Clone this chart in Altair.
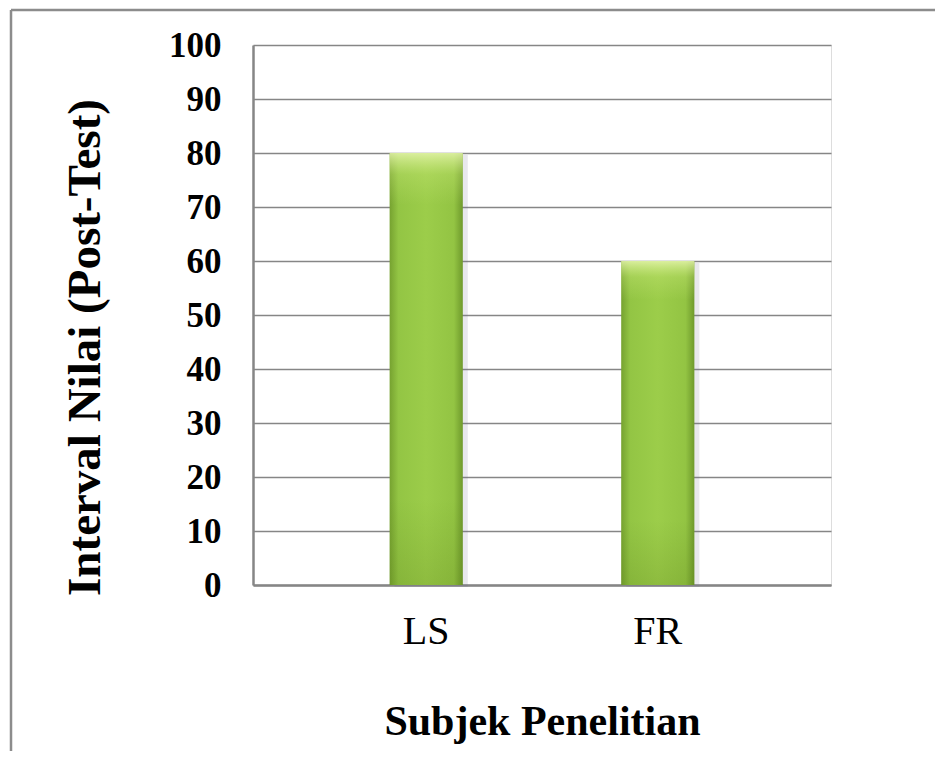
import altair as alt
import pandas as pd

categories = ["LS", "FR"]
values = [80, 60]
y_ticks = [0, 10, 20, 30, 40, 50, 60, 70, 80, 90, 100]

df = pd.DataFrame({"subjek": categories, "nilai": values})

FONT = "Liberation Serif"
GRAY = "#868686"

x_enc = alt.X(
    "subjek:N",
    sort=categories,
    scale=alt.Scale(paddingInner=0.684, paddingOuter=0.59),
    axis=alt.Axis(
        title="Subjek Penelitian",
        titleFont=FONT, titleFontSize=42, titleFontWeight="bold", titleColor="black",
        titleBaseline="alphabetic", titleY=149,
        labelFont=FONT, labelFontSize=40, labelFontWeight="normal", labelColor="black",
        labelAngle=0, labelPadding=26, labelBaseline="top",
        ticks=False, domainColor=GRAY, domainWidth=2.5, grid=False,
    ),
)
y_enc = alt.Y(
    "nilai:Q",
    scale=alt.Scale(domain=[0, 100], nice=False),
    axis=alt.Axis(
        values=y_ticks,
        title="Interval Nilai (Post-Test)",
        titleFont=FONT, titleFontSize=47, titleFontWeight="bold", titleColor="black",
        titleBaseline="middle", titleAlign="center", titleX=-168, titleY=302, titleAngle=-90,
        labelFont=FONT, labelFontSize=35, labelFontWeight="bold", labelColor="black",
        labelPadding=32, labelBaseline="middle",
        ticks=False, domainColor=GRAY, domainWidth=2.5,
        grid=True, gridColor=GRAY, gridWidth=1.5,
    ),
)

shadow = alt.Chart(df).mark_bar(color="rgba(110,110,140,0.16)", xOffset=5, yOffset=2).encode(
    x=x_enc, y=y_enc
)

bars = alt.Chart(df).mark_bar(
    color=alt.LinearGradient(
        gradient="linear",
        stops=[
            alt.GradientStop(color="#76a230", offset=0),
            alt.GradientStop(color="#93c544", offset=0.12),
            alt.GradientStop(color="#9ccd4a", offset=0.5),
            alt.GradientStop(color="#93c443", offset=0.88),
            alt.GradientStop(color="#6f9a2c", offset=1),
        ],
        x1=0, x2=1, y1=0, y2=0,
    )
).encode(x=x_enc, y=y_enc)

overlay = alt.Chart(df).mark_bar(
    color=alt.LinearGradient(
        gradient="linear",
        stops=[
            alt.GradientStop(color="rgba(235,248,180,0.8)", offset=0),
            alt.GradientStop(color="rgba(205,235,125,0.3)", offset=0.05),
            alt.GradientStop(color="rgba(200,230,120,0.0)", offset=0.12),
            alt.GradientStop(color="rgba(60,90,0,0.0)", offset=0.8),
            alt.GradientStop(color="rgba(60,90,0,0.15)", offset=1),
        ],
        x1=0, x2=0, y1=0, y2=1,
    )
).encode(x=x_enc, y=y_enc)

frame = alt.Data(values=[{}])
top_line = alt.Chart(frame).mark_rule(color="#8c8c8c", strokeWidth=2.5).encode(
    x=alt.value(-242), x2=alt.value(700), y=alt.value(-35)
)
left_line = alt.Chart(frame).mark_rule(color="#8c8c8c", strokeWidth=2.5).encode(
    x=alt.value(-242), y=alt.value(-35), y2=alt.value(720)
)

chart = alt.layer(top_line, left_line, shadow, bars, overlay).properties(
    width=578,
    height=540,
    autosize=alt.AutoSizeParams(type="none"),
    padding={"left": 245, "top": 37, "right": 104, "bottom": 166},
).configure_view(stroke=None).configure(background="white")

chart.save("out.html", embed_options={"renderer": "svg", "actions": False})
